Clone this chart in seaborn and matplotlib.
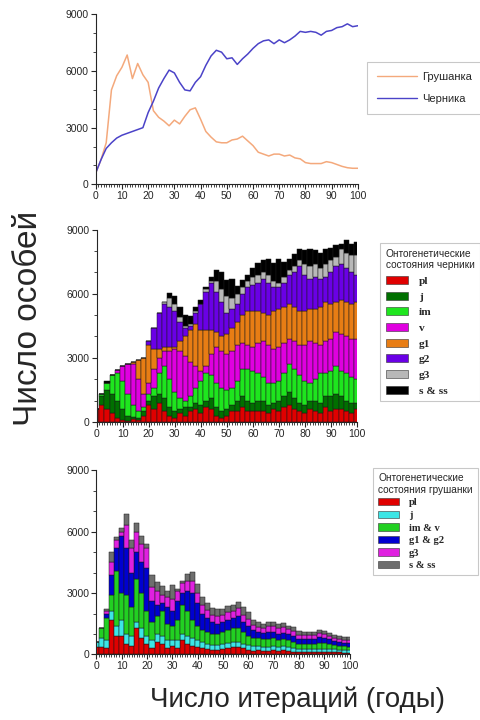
import numpy as np
import pandas as pd
import matplotlib
matplotlib.use("Agg")
import matplotlib.pyplot as plt
from matplotlib.patches import Patch
from matplotlib.lines import Line2D
from matplotlib.ticker import MultipleLocator
import seaborn as sns

# years of the model run, read every 2 years
years = list(range(0, 101, 2))

# total number of plants (top panel lines)
grushanka_total = [600, 1300, 2200, 5000, 5750, 6200, 6850, 5600, 6400, 5800,
                   5400, 3900, 3550, 3350, 3100, 3400, 3200, 3600, 3950, 4050,
                   3450, 2800, 2500, 2250, 2200, 2200, 2350, 2400, 2550, 2300,
                   2050, 1700, 1600, 1500, 1600, 1600, 1500, 1550, 1400, 1350,
                   1150, 1100, 1100, 1100, 1200, 1150, 1050, 950, 880, 850,
                   850]
chernika_total = [600, 1300, 1900, 2200, 2450, 2600, 2700, 2800, 2900, 3000,
                  3800, 4400, 5100, 5600, 6050, 5900, 5400, 5000, 4950, 5400,
                  5700, 6300, 6800, 7100, 7000, 6650, 6700, 6350, 6650, 6900,
                  7200, 7450, 7600, 7650, 7450, 7650, 7500, 7650, 7850, 8100,
                  8050, 8100, 8050, 7900, 8100, 8150, 8300, 8350, 8500, 8350,
                  8400]

# черника: upper edge of each state in the stacked bars
chern_pl_top = [600, 800, 600, 400, 200, 100, 50, 150, 100, 300,
                800, 600, 900, 500, 300, 200, 400, 300, 500, 600,
                400, 700, 600, 300, 200, 300, 500, 500, 700, 500,
                500, 500, 500, 400, 600, 500, 700, 800, 600, 500,
                400, 600, 500, 400, 700, 500, 600, 600, 500, 400,
                600]
chern_j_top = [600, 1200, 1500, 1300, 1000, 600, 300, 250, 200, 500,
               1000, 1200, 1300, 1100, 700, 500, 600, 700, 700, 900,
               800, 1000, 1100, 700, 500, 600, 800, 1000, 1200, 1000,
               900, 1000, 1000, 800, 900, 1000, 1200, 1400, 1100, 900,
               800, 1000, 1000, 900, 1200, 1200, 1300, 1200, 1000, 900,
               900]
chern_im_top = [600, 1300, 1800, 2200, 2300, 1900, 1300, 800, 500, 700,
                1300, 1600, 2300, 2600, 2000, 1400, 1100, 1000, 1200, 1600,
                1900, 2300, 2200, 1800, 1600, 1500, 1600, 1900, 2500, 2500,
                2400, 2300, 2100, 1800, 1800, 1900, 2300, 2700, 2500, 2200,
                1900, 1800, 2000, 2300, 2300, 2400, 2600, 2400, 2300, 2100,
                2000]
chern_v_top = [600, 1300, 1800, 2200, 2450, 2600, 2700, 2700, 2000, 1300,
               1800, 2500, 3000, 3300, 3300, 3400, 3300, 3100, 2800, 2600,
               2400, 2600, 3200, 3500, 3300, 3200, 3300, 3600, 3700, 3600,
               3500, 3700, 3800, 3600, 3400, 3500, 3700, 3900, 3800, 3600,
               3600, 3800, 3700, 3600, 3800, 3900, 4200, 4100, 4000, 3900,
               3900]
chern_g1_top = [600, 1300, 1800, 2200, 2450, 2600, 2700, 2800, 2900, 3000,
                3600, 3400, 3400, 3500, 3500, 3500, 3800, 4000, 4300, 4600,
                4300, 4300, 4300, 4200, 4000, 4100, 4400, 4700, 5000, 5200,
                5200, 5200, 5100, 5000, 5200, 5300, 5400, 5500, 5400, 5200,
                5200, 5300, 5300, 5400, 5600, 5500, 5600, 5700, 5600, 5500,
                5600]
chern_g2_top = [600, 1300, 1800, 2200, 2450, 2600, 2700, 2800, 2900, 3000,
                3800, 4400, 5100, 5500, 5400, 5200, 4700, 4400, 4500, 5100,
                5500, 6100, 6500, 6100, 5600, 5100, 5300, 5500, 6000, 6300,
                6400, 6500, 6700, 6500, 6300, 6300, 6500, 6900, 7000, 7300,
                6900, 6700, 6800, 6700, 6800, 7000, 7300, 7400, 7200, 7000,
                6900]
chern_g3_top = [600, 1300, 1800, 2200, 2450, 2600, 2700, 2800, 2900, 3000,
                3800, 4400, 5100, 5600, 5800, 5500, 4900, 4500, 4600, 5200,
                5500, 6200, 6600, 6600, 6200, 5900, 5800, 6000, 6300, 6600,
                6800, 6900, 7000, 6900, 6600, 6500, 6800, 7100, 7300, 7600,
                7400, 7300, 7400, 7200, 7400, 7600, 7700, 8100, 7900, 7800,
                7800]

# грушанка: upper edge of each state
grush_pl_top = [350, 350, 300, 1700, 900, 900, 500, 400, 1300, 800,
                500, 300, 600, 500, 300, 400, 300, 700, 500, 400,
                350, 300, 250, 200, 200, 250, 300, 350, 350, 300,
                200, 150, 200, 150, 150, 200, 150, 200, 150, 100,
                100, 100, 100, 100, 100, 100, 100, 100, 100, 80,
                80]
grush_j_top = [600, 800, 700, 2100, 1400, 1700, 1000, 900, 1600, 1300,
               900, 700, 1000, 900, 700, 700, 700, 1000, 900, 800,
               700, 600, 500, 450, 450, 500, 550, 600, 600, 500,
               450, 400, 400, 350, 350, 400, 350, 400, 350, 300,
               250, 250, 250, 250, 250, 250, 250, 250, 200, 200,
               200]
grush_imv_top = [600, 1300, 1800, 2900, 4100, 3000, 2900, 2300, 3700, 3000,
                 2100, 1600, 1900, 2100, 1500, 1400, 1700, 2400, 2100, 1700,
                 1400, 1200, 1100, 1000, 1000, 1100, 1200, 1300, 1300, 1100,
                 900, 800, 800, 750, 750, 800, 700, 750, 700, 600,
                 500, 500, 500, 500, 550, 550, 500, 450, 400, 400,
                 380]
grush_g12_top = [600, 1300, 2000, 3900, 5200, 5800, 5200, 4000, 5000, 4500,
                 4200, 2600, 2400, 2500, 2300, 2100, 2600, 3000, 3100, 3000,
                 2500, 2000, 1800, 1600, 1500, 1600, 1700, 1800, 1900, 1600,
                 1400, 1200, 1100, 1050, 1100, 1100, 1000, 1050, 1000, 900,
                 750, 750, 750, 750, 850, 800, 750, 650, 600, 580,
                 560]
grush_g3_top = [600, 1300, 2100, 4500, 5600, 6000, 6300, 5200, 6000, 5400,
                5200, 3300, 3100, 2900, 2800, 2700, 3100, 3500, 3600, 3600,
                3000, 2400, 2150, 1950, 1900, 1950, 2050, 2100, 2250, 1950,
                1750, 1450, 1350, 1300, 1400, 1400, 1300, 1350, 1250, 1150,
                950, 950, 950, 950, 1050, 1000, 900, 820, 760, 730,
                720]

chern_states = ["pl", "j", "im", "v", "g1", "g2", "g3", "s & ss"]
chern_colors = ["#e00000", "#007000", "#1ee61e", "#e000e0",
                "#e87d14", "#6a00e6", "#b8b8b8", "#000000"]
grush_states = ["pl", "j", "im & v", "g1 & g2", "g3", "s & ss"]
grush_colors = ["#e00000", "#3ce6e6", "#22d022", "#0000d0", "#e020e0", "#6e6e6e"]


def to_long(tops, states):
    # turn upper edges into per-state counts for stacking
    rows = []
    prev = np.zeros(len(years))
    for st, top in zip(states, tops):
        top = np.asarray(top, float)
        for yr, v in zip(years, top - prev):
            rows.append((yr, st, v))
        prev = top
    return pd.DataFrame(rows, columns=["year", "state", "count"])


df_ch = to_long([chern_pl_top, chern_j_top, chern_im_top, chern_v_top,
                 chern_g1_top, chern_g2_top, chern_g3_top, chernika_total],
                chern_states)
df_gr = to_long([grush_pl_top, grush_j_top, grush_imv_top, grush_g12_top,
                 grush_g3_top, grushanka_total], grush_states)

sns.set_style("ticks")
plt.rcParams["font.family"] = ["Liberation Sans", "DejaVu Sans"]

fig = plt.figure(figsize=(4.81, 7.2), dpi=100)
ax1 = fig.add_axes([0.199, 0.744, 0.545, 0.236])
ax2 = fig.add_axes([0.201, 0.414, 0.541, 0.267])
ax3 = fig.add_axes([0.200, 0.091, 0.527, 0.256])

# top: totals
sns.lineplot(x=years, y=grushanka_total, color="#f4a97c", lw=1.1, ax=ax1)
sns.lineplot(x=years, y=chernika_total, color="#4b43c8", lw=1.1, ax=ax1)

sns.histplot(data=df_ch, x="year", weights="count", hue="state",
             hue_order=chern_states[::-1], multiple="stack",
             binwidth=2, binrange=(-1, 101),
             palette=dict(zip(chern_states, chern_colors)), alpha=1,
             edgecolor="#1a1a1a", linewidth=0.35, legend=False, ax=ax2)
sns.histplot(data=df_gr, x="year", weights="count", hue="state",
             hue_order=grush_states[::-1], multiple="stack",
             binwidth=2, binrange=(-1, 101),
             palette=dict(zip(grush_states, grush_colors)), alpha=1,
             edgecolor="#1a1a1a", linewidth=0.35, legend=False, ax=ax3)

for ax in (ax1, ax2, ax3):
    ax.set_xlim(0, 100)
    ax.set_ylim(0, 9000)
    ax.set_xticks(range(0, 101, 10))
    ax.set_yticks([0, 3000, 6000, 9000])
    ax.xaxis.set_minor_locator(MultipleLocator(1))
    ax.yaxis.set_minor_locator(MultipleLocator(1000))
    ax.tick_params(which="major", length=3.5, width=0.8, labelsize=7.5, pad=1.5)
    ax.tick_params(which="minor", length=2, width=0.6)
    ax.set_xlabel("")
    ax.set_ylabel("")
    sns.despine(ax=ax)

# legends
leg1 = fig.legend(handles=[Line2D([], [], color="#f4a97c", lw=1.0),
                           Line2D([], [], color="#4b43c8", lw=1.0)],
                  labels=["Грушанка", "Черника"], loc="upper left",
                  bbox_to_anchor=(367 / 481, 1 - 62 / 720), fontsize=8,
                  frameon=True, fancybox=False, edgecolor="#bbbbbb",
                  handlelength=3.6, labelspacing=1.05, borderpad=0.9,
                  handletextpad=0.5, borderaxespad=0)
leg1.get_frame().set_linewidth(0.8)

for anchor, states, colors, title, size, tsize, spacing in [
        ((380 / 481, 1 - 243 / 720), chern_states, chern_colors,
         "Онтогенетические\nсостояния черники", 8.2, 7.3, 0.5),
        ((373 / 481, 1 - 468 / 720), grush_states, grush_colors,
         "Онтогенетические\nсостояния грушанки", 7.6, 7.3, 0.3)]:
    hs = [Patch(facecolor=c, edgecolor="#333333", lw=0.4) for c in colors]
    lg = fig.legend(handles=hs, labels=states, loc="upper left",
                    bbox_to_anchor=anchor, borderaxespad=0,
                    prop=dict(family="Liberation Serif", weight="bold", size=size),
                    title=title,
                    title_fontproperties=dict(family="Liberation Sans", size=tsize),
                    alignment="left", frameon=True, fancybox=False,
                    edgecolor="#bbbbbb", handlelength=2.0, handleheight=0.7,
                    labelspacing=spacing, borderpad=0.5, handletextpad=0.9)
    lg.get_frame().set_linewidth(0.8)

fig.text(0.06, 0.558, "Число особей", rotation=90, fontsize=24,
         ha="center", va="center")
fig.text(0.618, 0.028, "Число итераций (годы)", fontsize=20,
         ha="center", va="center")

fig.savefig("out.png", dpi=100)
